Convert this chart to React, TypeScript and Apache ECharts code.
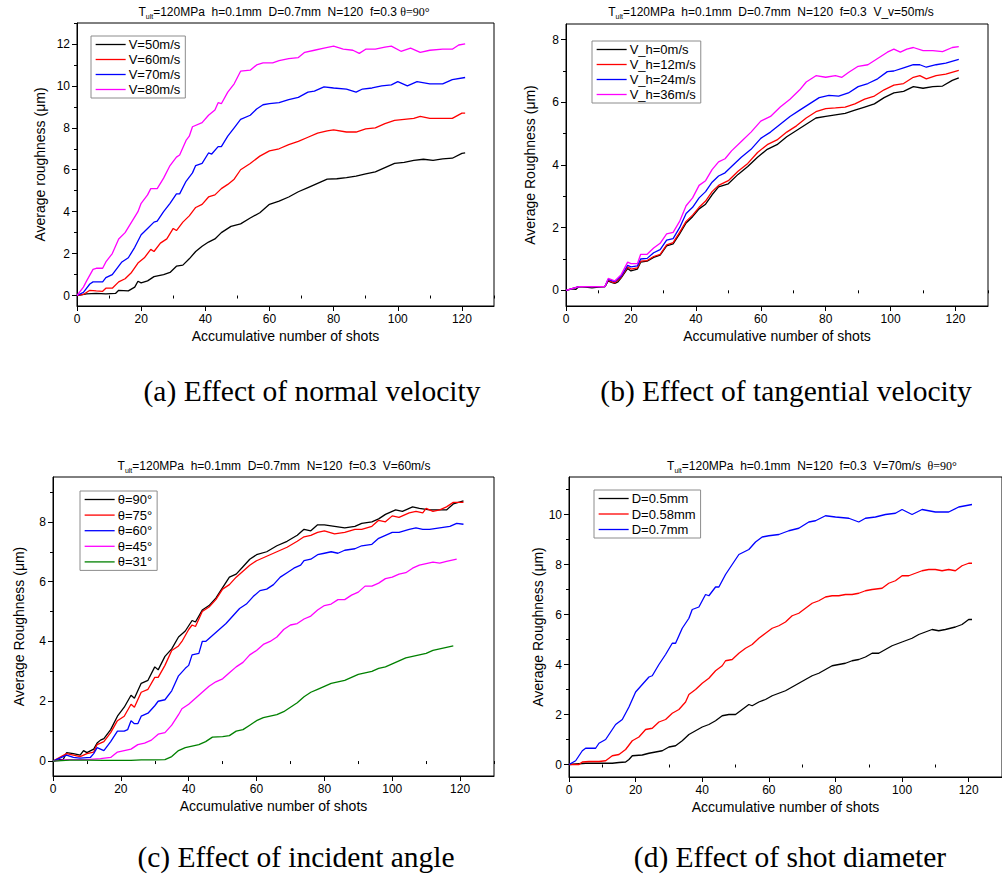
import React, { useEffect, useRef } from "react";
import * as echarts from "echarts";

type P = [number, number][];

// ---------- Panel (a): effect of normal velocity ----------
const A_V50: P = [[0,0],[3,0.08],[6,0.1],[9,0.08],[12,0.1],[13,0.25],[16,0.22],[18,0.4],[19,0.68],[20,0.6],[22,0.7],[24,0.9],[27,1.0],[29,1.1],[31,1.4],[33,1.45],[35,1.75],[37,2.1],[39,2.35],[41,2.55],[43,2.7],[45,3.0],[48,3.3],[51,3.42],[54,3.7],[57,3.95],[60,4.35],[63,4.5],[66,4.7],[69,4.95],[72,5.15],[75,5.35],[78,5.55],[81,5.57],[84,5.62],[87,5.7],[90,5.8],[93,5.9],[96,6.1],[99,6.3],[102,6.35],[105,6.45],[108,6.5],[111,6.45],[114,6.52],[117,6.55],[120,6.78],[121,6.8]];
const A_V60: P = [[0,0],[2,0.05],[4,0.25],[6,0.22],[8,0.2],[9,0.35],[11,0.35],[13,0.65],[15,0.8],[17,1.1],[19,1.55],[21,1.8],[23,2.2],[24,2.1],[26,2.5],[28,2.7],[30,3.2],[31,3.1],[33,3.5],[35,3.8],[37,4.2],[39,4.35],[41,4.7],[43,4.8],[45,5.1],[47,5.3],[49,5.55],[51,6.0],[54,6.3],[57,6.65],[60,6.9],[63,7.0],[66,7.2],[69,7.35],[72,7.55],[75,7.75],[78,7.85],[80,7.9],[84,7.8],[87,7.8],[90,7.95],[93,8.0],[96,8.2],[99,8.35],[102,8.4],[105,8.45],[107,8.55],[110,8.45],[114,8.45],[117,8.45],[120,8.7],[121,8.7]];
const A_V70: P = [[0,0],[2,0.15],[4,0.55],[5,0.65],[8,0.65],[9,0.85],[11,1.0],[13,1.4],[14,1.6],[16,1.8],[18,2.3],[20,2.9],[22,3.2],[24,3.5],[25,3.55],[27,4.0],[29,4.4],[31,4.85],[32,4.85],[34,5.45],[36,5.85],[37,6.2],[39,6.3],[41,6.8],[42,6.75],[44,7.1],[45,7.1],[47,7.6],[49,8.0],[51,8.4],[54,8.6],[56,8.9],[58,9.1],[60,9.15],[63,9.2],[66,9.35],[69,9.45],[72,9.7],[74,9.75],[77,9.95],[80,9.9],[84,9.85],[87,9.7],[89,9.85],[92,9.9],[95,10.0],[98,10.05],[100,10.2],[103,10.0],[106,10.2],[110,10.1],[114,10.1],[117,10.3],[121,10.4]];
const A_V80: P = [[0,0],[2,0.4],[3,0.7],[5,1.25],[6,1.3],[8,1.3],[9,1.6],[11,2.0],[13,2.7],[15,3.0],[17,3.5],[19,4.0],[20,4.4],[22,4.8],[23,5.1],[25,5.1],[27,5.6],[29,6.2],[31,6.6],[32,6.7],[34,7.4],[35,7.6],[36,8.05],[39,8.25],[41,8.6],[43,8.85],[44,9.2],[45,9.15],[47,9.7],[49,10.1],[51,10.7],[54,10.75],[56,11.0],[58,11.1],[61,11.1],[63,11.2],[66,11.3],[69,11.35],[71,11.6],[74,11.7],[77,11.8],[80,11.9],[83,11.75],[86,11.7],[88,11.55],[90,11.75],[93,11.75],[96,11.85],[98,11.9],[101,11.65],[104,11.8],[107,11.6],[110,11.7],[114,11.75],[117,11.75],[119,11.95],[121,12.0]];

// ---------- Panel (b): effect of tangential velocity ----------
const B_H0: P = [[0,0],[2,0.05],[3,0.03],[4,0.12],[6,0.1],[8,0.08],[10,0.1],[12,0.12],[13,0.3],[14,0.25],[15,0.22],[16,0.27],[17,0.4],[19,0.7],[20,0.62],[22,0.68],[23,0.9],[25,0.93],[27,1.05],[29,1.12],[31,1.42],[33,1.48],[35,1.8],[37,2.15],[39,2.35],[41,2.6],[43,2.75],[45,3.05],[47,3.3],[50,3.4],[53,3.7],[56,3.95],[59,4.25],[62,4.5],[65,4.65],[68,4.9],[71,5.1],[74,5.3],[77,5.5],[80,5.55],[83,5.6],[86,5.65],[89,5.75],[92,5.85],[95,5.95],[98,6.15],[101,6.3],[104,6.35],[107,6.5],[110,6.45],[113,6.5],[116,6.52],[119,6.7],[121,6.78]];
const B_H12: P = [[0,0],[4,0.12],[12,0.12],[13,0.32],[15,0.24],[17,0.42],[19,0.75],[20,0.68],[22,0.72],[23,0.93],[25,0.95],[27,1.08],[29,1.15],[31,1.45],[33,1.52],[35,1.85],[37,2.2],[39,2.4],[41,2.65],[43,2.85],[45,3.15],[47,3.35],[50,3.5],[53,3.8],[56,4.05],[59,4.4],[62,4.65],[65,4.8],[68,5.05],[71,5.25],[74,5.5],[77,5.7],[80,5.8],[83,5.82],[86,5.85],[89,5.95],[92,6.1],[95,6.2],[98,6.4],[101,6.55],[104,6.6],[107,6.8],[109,6.85],[111,6.75],[114,6.85],[117,6.9],[121,7.02]];
const B_H24: P = [[0,0],[4,0.12],[12,0.12],[13,0.35],[15,0.28],[17,0.45],[19,0.8],[20,0.75],[22,0.78],[23,1.0],[25,1.02],[27,1.2],[29,1.3],[31,1.6],[33,1.65],[35,2.0],[37,2.45],[39,2.65],[41,2.95],[43,3.15],[45,3.45],[47,3.65],[49,3.75],[51,3.95],[54,4.25],[57,4.5],[60,4.85],[63,5.05],[66,5.3],[69,5.55],[72,5.75],[75,5.95],[78,6.15],[81,6.22],[84,6.2],[87,6.3],[90,6.5],[93,6.6],[96,6.75],[99,6.98],[101,7.0],[104,7.1],[107,7.2],[109,7.2],[111,7.12],[114,7.2],[117,7.25],[121,7.37]];
const B_H36: P = [[0,0],[4,0.12],[12,0.12],[13,0.38],[15,0.3],[17,0.5],[19,0.9],[20,0.85],[22,0.85],[23,1.15],[25,1.15],[27,1.35],[29,1.5],[31,1.8],[33,1.85],[35,2.2],[37,2.7],[39,2.95],[41,3.35],[43,3.5],[45,3.85],[47,4.1],[49,4.2],[51,4.45],[54,4.75],[57,5.05],[60,5.4],[63,5.55],[66,5.85],[69,6.1],[72,6.4],[74,6.65],[77,6.85],[80,6.8],[83,6.85],[85,6.8],[87,6.95],[90,7.15],[93,7.2],[96,7.4],[99,7.6],[101,7.7],[103,7.6],[105,7.7],[107,7.75],[110,7.65],[113,7.65],[116,7.62],[119,7.75],[121,7.78]];

// ---------- Panel (c): effect of incident angle ----------
const C_T90: P = [[0,0],[2,0.05],[3,0.05],[4,0.28],[6,0.25],[8,0.2],[9,0.35],[10,0.28],[12,0.4],[13,0.6],[14,0.7],[15,0.75],[17,1.05],[19,1.5],[21,1.8],[23,2.2],[24,2.1],[26,2.6],[28,2.7],[30,3.15],[31,3.05],[33,3.5],[35,3.75],[37,4.15],[39,4.35],[41,4.7],[42,4.65],[44,5.05],[46,5.2],[48,5.45],[50,5.8],[52,6.15],[54,6.25],[56,6.5],[58,6.75],[60,6.9],[63,7.0],[66,7.2],[69,7.35],[72,7.55],[74,7.75],[76,7.7],[78,7.9],[80,7.9],[83,7.85],[86,7.8],[89,7.85],[91,7.95],[94,8.0],[96,8.1],[98,8.25],[101,8.4],[103,8.35],[106,8.5],[108,8.45],[111,8.4],[114,8.4],[116,8.4],[118,8.6],[121,8.7]];
const C_T75: P = [[0,0],[4,0.25],[8,0.15],[10,0.25],[12,0.3],[13,0.55],[15,0.65],[17,0.95],[19,1.35],[21,1.5],[23,1.9],[24,1.8],[26,2.3],[28,2.4],[30,2.8],[31,2.8],[33,3.2],[35,3.7],[37,3.85],[38,4.0],[40,4.4],[41,4.55],[42,4.5],[44,5.0],[46,5.15],[48,5.4],[50,5.75],[52,5.9],[54,6.15],[56,6.35],[58,6.55],[60,6.7],[63,6.85],[66,7.0],[69,7.15],[72,7.35],[74,7.5],[76,7.55],[78,7.65],[80,7.7],[83,7.6],[86,7.65],[89,7.75],[91,7.75],[94,7.85],[96,8.05],[98,8.0],[100,8.2],[102,8.15],[105,8.3],[107,8.35],[109,8.3],[110,8.45],[112,8.35],[114,8.4],[116,8.5],[118,8.65],[121,8.65]];
const C_T60: P = [[0,0],[4,0.2],[6,0.12],[8,0.1],[11,0.12],[12,0.25],[13,0.45],[15,0.35],[17,0.65],[19,1.0],[21,1.0],[22,1.05],[23,1.35],[24,1.25],[25,1.25],[26,1.5],[28,1.6],[30,1.85],[31,2.0],[33,2.05],[35,2.35],[37,2.85],[39,3.1],[40,3.2],[41,3.55],[43,3.6],[44,4.0],[45,4.0],[47,4.2],[49,4.4],[51,4.6],[53,4.85],[55,5.1],[57,5.25],[59,5.5],[61,5.7],[63,5.75],[65,5.9],[67,6.15],[69,6.3],[71,6.45],[73,6.55],[74,6.7],[76,6.75],[78,6.9],[80,6.95],[82,7.0],[84,6.95],[86,7.05],[89,7.1],[91,7.2],[94,7.25],[96,7.45],[98,7.55],[100,7.65],[102,7.65],[105,7.75],[107,7.8],[109,7.75],[111,7.75],[114,7.8],[117,7.85],[119,7.95],[121,7.92]];
const C_T45: P = [[0,0],[4,0.05],[10,0.05],[14,0.08],[17,0.12],[19,0.3],[21,0.35],[23,0.4],[25,0.55],[27,0.6],[29,0.7],[31,0.9],[33,0.95],[35,1.2],[37,1.55],[38,1.75],[40,1.9],[42,2.1],[44,2.3],[46,2.5],[48,2.65],[50,2.75],[52,2.95],[54,3.15],[56,3.3],[58,3.55],[60,3.7],[62,3.9],[64,4.0],[66,4.15],[68,4.4],[70,4.55],[72,4.6],[74,4.75],[76,4.85],[78,5.05],[80,5.2],[82,5.25],[84,5.4],[86,5.4],[88,5.55],[90,5.65],[92,5.85],[94,5.85],[96,5.95],[98,6.1],[100,6.15],[102,6.25],[104,6.3],[106,6.45],[108,6.55],[110,6.6],[112,6.65],[114,6.62],[116,6.68],[119,6.75]];
const C_T31: P = [[0,0],[5,0.03],[10,0.03],[15,0.02],[20,0.02],[23,0.02],[26,0.04],[30,0.04],[33,0.05],[35,0.15],[37,0.35],[39,0.45],[41,0.5],[43,0.55],[45,0.65],[47,0.8],[50,0.82],[52,0.85],[54,1.0],[56,1.05],[58,1.2],[60,1.35],[62,1.45],[64,1.5],[66,1.55],[68,1.65],[70,1.8],[72,1.95],[74,2.15],[76,2.3],[78,2.4],[80,2.5],[82,2.6],[84,2.65],[86,2.7],[88,2.8],[90,2.9],[92,2.95],[94,3.0],[96,3.1],[98,3.15],[100,3.25],[102,3.35],[104,3.45],[106,3.5],[108,3.55],[110,3.6],[112,3.7],[114,3.75],[116,3.8],[118,3.85]];

// ---------- Panel (d): effect of shot diameter ----------
const D_05: P = [[0,0],[5,0.05],[10,0.05],[13,0.05],[15,0.08],[17,0.1],[18,0.2],[19,0.35],[22,0.38],[24,0.45],[26,0.5],[28,0.55],[30,0.7],[32,0.75],[34,0.95],[36,1.2],[38,1.35],[40,1.5],[42,1.6],[44,1.75],[46,1.95],[48,2.0],[50,2.0],[52,2.2],[54,2.4],[55,2.35],[57,2.5],[59,2.6],[61,2.75],[63,2.85],[65,2.95],[67,3.1],[69,3.25],[71,3.4],[73,3.55],[75,3.65],[77,3.8],[79,3.95],[81,4.0],[83,4.05],[85,4.15],[87,4.2],[89,4.3],[91,4.45],[93,4.45],[95,4.6],[97,4.75],[99,4.85],[101,4.95],[103,5.05],[105,5.2],[107,5.3],[109,5.4],[111,5.35],[113,5.4],[116,5.5],[118,5.6],[120,5.8],[121,5.8]];
const D_058: P = [[0,0],[3,0.0],[4,0.1],[6,0.12],[9,0.12],[11,0.15],[13,0.35],[15,0.4],[17,0.6],[19,0.95],[21,1.1],[23,1.4],[25,1.45],[27,1.7],[29,1.8],[31,2.05],[33,2.2],[35,2.5],[36,2.8],[38,3.0],[40,3.25],[42,3.45],[44,3.75],[46,3.95],[47,4.15],[49,4.2],[51,4.45],[53,4.65],[55,4.8],[57,5.05],[59,5.25],[61,5.45],[63,5.55],[65,5.7],[67,5.95],[69,6.05],[71,6.25],[73,6.45],[75,6.55],[77,6.7],[79,6.75],[81,6.75],[83,6.8],[85,6.8],[87,6.85],[89,6.95],[91,7.0],[94,7.05],[96,7.25],[98,7.35],[100,7.55],[102,7.55],[104,7.65],[106,7.75],[108,7.8],[110,7.8],[112,7.75],[114,7.8],[116,7.75],[118,7.95],[120,8.05],[121,8.05]];
const D_07: P = [[0,0],[2,0.15],[4,0.55],[5,0.65],[8,0.65],[9,0.85],[11,1.0],[13,1.4],[14,1.6],[16,1.8],[18,2.3],[20,2.9],[22,3.2],[24,3.5],[25,3.55],[27,4.0],[29,4.4],[31,4.85],[32,4.85],[34,5.45],[36,5.85],[37,6.2],[39,6.3],[41,6.8],[42,6.75],[44,7.1],[45,7.1],[47,7.6],[49,8.0],[51,8.4],[54,8.6],[56,8.9],[58,9.1],[60,9.15],[63,9.2],[66,9.35],[69,9.45],[72,9.7],[74,9.75],[77,9.95],[80,9.9],[84,9.85],[87,9.7],[89,9.85],[92,9.9],[95,10.0],[98,10.05],[100,10.2],[103,10.0],[106,10.2],[110,10.1],[114,10.1],[117,10.3],[121,10.4]];

// ---------- Ticks ----------
const X_MAJOR = [0, 20, 40, 60, 80, 100, 120];
const X_MINOR = [10, 30, 50, 70, 90, 110, 130];
const Y_MAJOR_A = [0, 2, 4, 6, 8, 10, 12];
const Y_MINOR_A = [1, 3, 5, 7, 9, 11, 13];
const Y_MAJOR_B = [0, 2, 4, 6, 8];
const Y_MINOR_B = [1, 3, 5, 7];
const Y_MAJOR_C = [0, 2, 4, 6, 8];
const Y_MINOR_C = [1, 3, 5, 7, 9];
const Y_MAJOR_D = [0, 2, 4, 6, 8, 10];
const Y_MINOR_D = [1, 3, 5, 7, 9, 11];

const FONT = "'Liberation Sans', Arial, Helvetica, sans-serif";
const SERIF = "'Liberation Serif', 'Times New Roman', serif";
const BLACK = "#000000";
const RED = "#ff0000";
const BLUE = "#0000ff";
const MAGENTA = "#ff00ff";
const GREEN = "#008000";

interface Panel {
  grid: { left: number; top: number; width: number; height: number };
  yMax: number;
  yMajor: number[];
  yMinor: number[];
  yName: string;
  yNameGap: number;
  legend: { left: number; top: number; itemGap: number };
  series: { name: string; color: string; data: P }[];
}

const PANELS: Panel[] = [
  {
    grid: { left: 77, top: 23, width: 417, height: 283 },
    yMax: 13,
    yMajor: Y_MAJOR_A,
    yMinor: Y_MINOR_A,
    yName: "Average roughness (\u03bcm)",
    yNameGap: 30,
    legend: { left: 91, top: 36, itemGap: 2 },
    series: [
      { name: "V=50m/s", color: BLACK, data: A_V50 },
      { name: "V=60m/s", color: RED, data: A_V60 },
      { name: "V=70m/s", color: BLUE, data: A_V70 },
      { name: "V=80m/s", color: MAGENTA, data: A_V80 },
    ],
  },
  {
    grid: { left: 566, top: 24, width: 422, height: 282 },
    yMax: 8.5,
    yMajor: Y_MAJOR_B,
    yMinor: Y_MINOR_B,
    yName: "Average Roughness (\u03bcm)",
    yNameGap: 29,
    legend: { left: 592, top: 41, itemGap: 2 },
    series: [
      { name: "V_h=0m/s", color: BLACK, data: B_H0 },
      { name: "V_h=12m/s", color: RED, data: B_H12 },
      { name: "V_h=24m/s", color: BLUE, data: B_H24 },
      { name: "V_h=36m/s", color: MAGENTA, data: B_H36 },
    ],
  },
  {
    grid: { left: 53, top: 477, width: 441, height: 299 },
    yMax: 9.5,
    yMajor: Y_MAJOR_C,
    yMinor: Y_MINOR_C,
    yName: "Average Roughness (\u03bcm)",
    yNameGap: 27,
    legend: { left: 80, top: 491, itemGap: 2.6 },
    series: [
      { name: "\u03b8=90\u00b0", color: BLACK, data: C_T90 },
      { name: "\u03b8=75\u00b0", color: RED, data: C_T75 },
      { name: "\u03b8=60\u00b0", color: BLUE, data: C_T60 },
      { name: "\u03b8=45\u00b0", color: MAGENTA, data: C_T45 },
      { name: "\u03b8=31\u00b0", color: GREEN, data: C_T31 },
    ],
  },
  {
    grid: { left: 569, top: 477, width: 442, height: 300 },
    yMax: 11.5,
    yMajor: Y_MAJOR_D,
    yMinor: Y_MINOR_D,
    yName: "Average Roughness (\u03bcm)",
    yNameGap: 17,
    legend: { left: 594, top: 490, itemGap: 2.5 },
    series: [
      { name: "D=0.5mm", color: BLACK, data: D_05 },
      { name: "D=0.58mm", color: RED, data: D_058 },
      { name: "D=0.7mm", color: BLUE, data: D_07 },
    ],
  },
];

const TITLES = [
  { x: 284, y: 12, body: "=120MPa  h=0.1mm  D=0.7mm  N=120  f=0.3 ", tail: "\u03b8=90\u00b0" },
  { x: 771, y: 12, body: "=120MPa  h=0.1mm  D=0.7mm  N=120  f=0.3  V_v=50m/s", tail: "" },
  { x: 274, y: 466, body: "=120MPa  h=0.1mm  D=0.7mm  N=120  f=0.3  V=60m/s", tail: "" },
  { x: 812, y: 466, body: "=120MPa  h=0.1mm  N=120  f=0.3  V=70m/s  ", tail: "\u03b8=90\u00b0" },
];

const CAPTIONS = [
  { x: 312, y: 391, text: "(a) Effect of normal velocity" },
  { x: 786, y: 391, text: "(b) Effect of tangential velocity" },
  { x: 296, y: 857, text: "(c) Effect of incident angle" },
  { x: 790, y: 857, text: "(d) Effect of shot diameter" },
];

function buildOption() {
  const grid: any[] = [];
  const xAxis: any[] = [];
  const yAxis: any[] = [];
  const legend: any[] = [];
  const series: any[] = [];

  PANELS.forEach((p, i) => {
    grid.push({ ...p.grid, show: true, borderColor: "#000", borderWidth: 1, backgroundColor: "transparent", containLabel: false });
    xAxis.push({
      type: "value",
      gridIndex: i,
      min: 0,
      max: 130,
      position: "bottom",
      name: "Accumulative number of shots",
      nameLocation: "middle",
      nameGap: 23,
      nameTextStyle: { fontFamily: FONT, fontSize: 14, color: "#000" },
      axisLine: { show: true, onZero: false, lineStyle: { color: "#000", width: 1 } },
      axisTick: { show: true, inside: false, length: 5, customValues: X_MAJOR, lineStyle: { color: "#000" } },
      axisLabel: { show: true, customValues: X_MAJOR, margin: 7, fontFamily: FONT, fontSize: 12, color: "#000" },
      splitLine: { show: false },
    });
    yAxis.push({
      type: "value",
      gridIndex: i,
      min: -0.5,
      max: p.yMax,
      position: "left",
      name: p.yName,
      nameLocation: "middle",
      nameGap: p.yNameGap,
      nameTextStyle: { fontFamily: FONT, fontSize: 14, color: "#000" },
      axisLine: { show: true, onZero: false, lineStyle: { color: "#000", width: 1 } },
      axisTick: { show: true, inside: false, length: 5, customValues: p.yMajor, lineStyle: { color: "#000" } },
      axisLabel: { show: true, customValues: p.yMajor, margin: 7, fontFamily: FONT, fontSize: 12, color: "#000" },
      splitLine: { show: false },
    });
    legend.push({
      data: p.series.map((s) => s.name),
      left: p.legend.left,
      top: p.legend.top,
      orient: "vertical",
      itemWidth: 30,
      itemHeight: 14,
      itemGap: p.legend.itemGap,
      padding: [2, 5, 2, 4],
      borderColor: "#8c8c8c",
      borderWidth: 1,
      backgroundColor: "#fff",
      selectedMode: false,
      itemStyle: { opacity: 0 },
      lineStyle: { width: 1.3 },
      textStyle: { fontFamily: FONT, fontSize: 13, color: "#000", padding: [0, 0, 0, -2] },
    });
    p.series.forEach((s) => {
      series.push({
        type: "line",
        name: s.name,
        xAxisIndex: i,
        yAxisIndex: i,
        data: s.data,
        symbol: "none",
        showSymbol: false,
        smooth: false,
        color: s.color,
        lineStyle: { color: s.color, width: 1.3 },
        emphasis: { disabled: true },
        z: 2,
      });
    });
  });

  // Minor-tick axes
  PANELS.forEach((p, i) => {
    xAxis.push({
      type: "value",
      gridIndex: i,
      min: 0,
      max: 130,
      position: "bottom",
      axisLine: { show: false },
      axisTick: { show: true, inside: false, length: 3, customValues: X_MINOR, lineStyle: { color: "#000" } },
      axisLabel: { show: false },
      splitLine: { show: false },
    });
    yAxis.push({
      type: "value",
      gridIndex: i,
      min: -0.5,
      max: p.yMax,
      position: "left",
      axisLine: { show: false },
      axisTick: { show: true, inside: false, length: 3, customValues: p.yMinor, lineStyle: { color: "#000" } },
      axisLabel: { show: false },
      splitLine: { show: false },
    });
  });

  const graphic: any[] = [];
  TITLES.forEach((t) => {
    graphic.push({
      type: "text",
      x: t.x,
      y: t.y,
      silent: true,
      style: {
        text: "{a|T}{s|ult}{a|" + t.body + "}" + (t.tail ? "{g|" + t.tail + "}" : ""),
        align: "center",
        verticalAlign: "middle",
        rich: {
          a: { fontFamily: FONT, fontSize: 12, lineHeight: 16, fill: "#000", verticalAlign: "middle" },
          s: { fontFamily: FONT, fontSize: 7, lineHeight: 8, fill: "#000", verticalAlign: "bottom" },
          g: { fontFamily: SERIF, fontSize: 12, lineHeight: 16, fill: "#000", verticalAlign: "middle" },
        },
      },
    });
  });
  CAPTIONS.forEach((c) => {
    graphic.push({
      type: "text",
      x: c.x,
      y: c.y,
      silent: true,
      style: {
        text: c.text,
        fontFamily: SERIF,
        fontSize: 29.5,
        fill: "#000",
        align: "center",
        verticalAlign: "middle",
      },
    });
  });

  return {
    animation: false,
    backgroundColor: "#ffffff",
    textStyle: { fontFamily: FONT },
    grid,
    xAxis,
    yAxis,
    legend,
    series,
    graphic,
  };
}

export default function App() {
  const ref = useRef<HTMLDivElement>(null);
  useEffect(() => {
    if (!ref.current) return;
    const chart = echarts.init(ref.current, undefined, { renderer: "svg" });
    chart.setOption(buildOption() as any);
    return () => chart.dispose();
  }, []);
  return (
    <div
      ref={ref}
      style={{ position: "absolute", left: 0, top: 0, width: 1002, height: 880, background: "#fff" }}
    />
  );
}
